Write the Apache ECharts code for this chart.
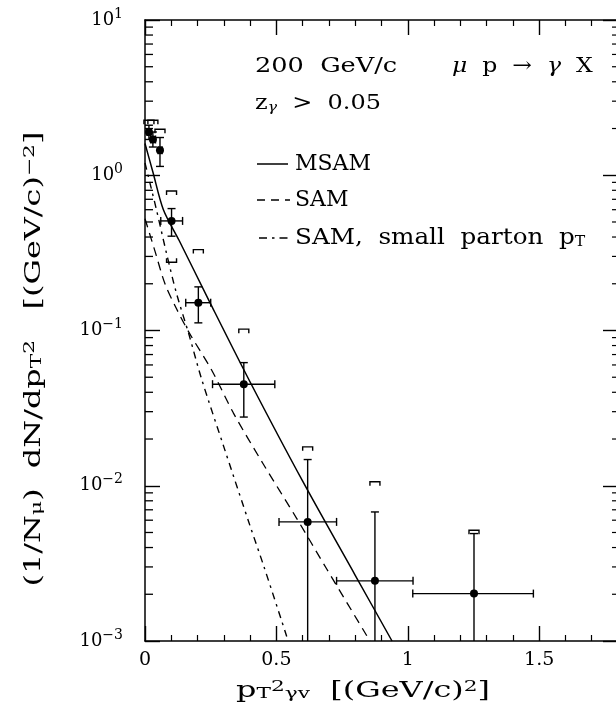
<!DOCTYPE html>
<html><head><meta charset="utf-8">
<script src="https://cdn.jsdelivr.net/npm/echarts@6/dist/echarts.min.js"></script>
<style>html,body{margin:0;padding:0;background:#fff}#c{width:616px;height:715px}</style>
</head><body><div id="c"></div>
<script>
// ---- data points (pT^2, (1/N) dN/dpT^2) ----
const ptX   = [0.015, 0.030, 0.057, 0.101, 0.203, 0.376, 0.619, 0.875, 1.252];
const ptY   = [1.90, 1.70, 1.45, 0.508, 0.151, 0.0451, 0.00585, 0.00244, 0.00202];
const ptXLo = [0.008, 0.022, 0.050, 0.060, 0.155, 0.257, 0.510, 0.729, 1.019];
const ptXHi = [0.022, 0.040, 0.065, 0.143, 0.250, 0.494, 0.729, 1.020, 1.478];
const ptYLo = [1.70, 1.52, 1.14, 0.405, 0.112, 0.0277, null, null, null];
const ptYHi = [2.10, 1.90, 1.75, 0.610, 0.191, 0.0621, 0.01475, 0.00678, 0.00492];
const sysHi = [2.26, 2.26, 1.98, 0.792, 0.332, 0.102, 0.0178, 0.0106, 0.00517];
const sysLo = [null, null, null, 0.275, null, null, null, null, null];

// ---- model curves ----
const msamX = [0, 0.03, 0.07, 0.13, 0.25, 0.40, 0.60, 0.80, 0.94];
const msamY = [1.60, 1.05, 0.60, 0.38, 0.148, 0.0466, 0.0107, 0.00265, 0.00100];
const samX  = [0, 0.04, 0.076, 0.12, 0.17, 0.254, 0.336, 0.45, 0.577, 0.691, 0.856];
const samY  = [0.525, 0.316, 0.200, 0.138, 0.0955, 0.0555, 0.0295, 0.0138, 0.00617, 0.00292, 0.00100];
const smlX  = [0, 0.044, 0.08, 0.12, 0.168, 0.2156, 0.30, 0.40, 0.453, 0.545];
const smlY  = [1.20, 0.596, 0.324, 0.173, 0.0933, 0.0485, 0.0178, 0.0055, 0.0030, 0.00100];

// ---- axes ----
const xMin = 0, xMax = 1.8;
const xTickLabels = ['0', '0.5', '1', '1.5'];
const yExponents = [-3, -2, -1, 0, 1];
const minorMantissas = [2, 3, 4, 5, 6, 7, 8, 9];

const SERIF = '"DejaVu Serif", "Liberation Serif", serif';
const chart = echarts.init(document.getElementById('c'), null, {renderer: 'canvas'});

const errData = ptX.map((x, i) => [x, ptY[i], ptXLo[i], ptXHi[i], ptYLo[i] == null ? -1 : ptYLo[i], ptYHi[i]]);
const sysData = ptX.map((x, i) => [x, sysHi[i], sysLo[i] == null ? -1 : sysLo[i]]);
const minorValues = [];
yExponents.slice(0, -1).forEach(e => minorMantissas.forEach(m => minorValues.push(m * Math.pow(10, e))));

const blk = {stroke: '#000', lineWidth: 1.4, fill: null};

function renderErr(params, api) {
  const bottom = api.coord([api.value(0), 0.001])[1];
  const x = api.value(0), y = api.value(1);
  const c = api.coord([x, y]);
  const L = api.coord([api.value(2), y])[0];
  const R = api.coord([api.value(3), y])[0];
  const T = api.coord([x, api.value(5)])[1];
  const yl = api.value(4);
  const hasLo = yl > 0;
  const B = hasLo ? api.coord([x, yl])[1] : bottom;
  const cap = 4;
  const ch = [
    {type: 'line', shape: {x1: L, y1: c[1], x2: R, y2: c[1]}, style: blk},
    {type: 'line', shape: {x1: L, y1: c[1] - cap, x2: L, y2: c[1] + cap}, style: blk},
    {type: 'line', shape: {x1: R, y1: c[1] - cap, x2: R, y2: c[1] + cap}, style: blk},
    {type: 'line', shape: {x1: c[0], y1: T, x2: c[0], y2: B}, style: blk},
    {type: 'line', shape: {x1: c[0] - cap, y1: T, x2: c[0] + cap, y2: T}, style: blk},
    {type: 'circle', shape: {cx: c[0], cy: c[1], r: 4}, style: {fill: '#000'}}
  ];
  if (hasLo) ch.push({type: 'line', shape: {x1: c[0] - cap, y1: B, x2: c[0] + cap, y2: B}, style: blk});
  return {type: 'group', children: ch};
}

function renderSys(params, api) {
  const x = api.value(0);
  const up = api.coord([x, api.value(1)]);
  const w = 5, h = 4;
  const ch = [{type: 'polyline', shape: {points: [[up[0] - w, up[1] + h], [up[0] - w, up[1]], [up[0] + w, up[1]], [up[0] + w, up[1] + h]]}, style: blk}];
  const lo = api.value(2);
  if (lo > 0) {
    const d = api.coord([x, lo]);
    ch.push({type: 'polyline', shape: {points: [[d[0] - w, d[1] - h], [d[0] - w, d[1]], [d[0] + w, d[1]], [d[0] + w, d[1] - h]]}, style: blk});
  }
  if (params.dataIndex === 0) {
    // logarithmic minor ticks on the left and right frame
    minorValues.forEach(v => {
      const l = api.coord([xMin, v]);
      const r = api.coord([xMax, v]);
      ch.push({type: 'line', shape: {x1: l[0], y1: l[1], x2: l[0] + 8, y2: l[1]}, style: {stroke: '#000', lineWidth: 1.3, fill: null}});
      ch.push({type: 'line', shape: {x1: r[0] - 6, y1: r[1], x2: r[0], y2: r[1]}, style: {stroke: '#000', lineWidth: 1.2, fill: null}});
    });
  }
  return {type: 'group', children: ch};
}

const axisLineStyle = {color: '#000', width: 1.5};
const xAxisCommon = {
  type: 'value', min: xMin, max: xMax, interval: 0.5,
  axisLine: {show: true, onZero: false, lineStyle: axisLineStyle},
  axisTick: {show: true, inside: true, length: 15, lineStyle: {color: '#000', width: 1.4}},
  minorTick: {show: true, splitNumber: 5, length: 6, lineStyle: {color: '#000', width: 1.2}},
  splitLine: {show: false}
};
const yAxisCommon = {
  type: 'log', logBase: 10, min: 0.001, max: 10,
  axisLine: {show: true, onZero: false, lineStyle: axisLineStyle},
  axisTick: {show: true, inside: true, length: 15, lineStyle: {color: '#000', width: 1.4}},
  minorTick: {show: false},
  splitLine: {show: false}
};

const subSup = {
  sub: {fontSize: 15, fontFamily: SERIF, verticalAlign: 'bottom', lineHeight: 14},
  sup: {fontSize: 15, fontFamily: SERIF, verticalAlign: 'top', lineHeight: 14}
};

const option = {
  animation: false,
  backgroundColor: '#fff',
  grid: {left: 145, top: 20, width: 473, height: 621, containLabel: false, outerBoundsMode: 'none'},
  xAxis: [
    Object.assign({}, xAxisCommon, {position: 'bottom',
      axisLabel: {show: true, margin: 10, color: '#000', fontFamily: SERIF, fontSize: 19, showMaxLabel: false,
        formatter: v => { const i = Math.round(v / 0.5); return (Math.abs(v - i * 0.5) < 1e-9 && i < xTickLabels.length) ? xTickLabels[i] : ''; }}}),
    Object.assign({}, xAxisCommon, {position: 'top', axisLabel: {show: false}})
  ],
  yAxis: [
    Object.assign({}, yAxisCommon, {position: 'left',
      axisLabel: {show: true, margin: 22, color: '#000', fontFamily: SERIF,
        formatter: v => { const e = Math.round(Math.log10(v)); return '{b|10}{s|' + (e < 0 ? '\u2212' + (-e) : e) + '}'; },
        rich: {b: {fontSize: 18, fontFamily: SERIF, color: '#000', lineHeight: 26},
               s: {fontSize: 14, fontFamily: SERIF, color: '#000', lineHeight: 16, verticalAlign: 'top'}}}}),
    Object.assign({}, yAxisCommon, {position: 'right', axisLabel: {show: false}})
  ],
  series: [
    {type: 'line', name: 'MSAM', data: msamX.map((x, i) => [x, msamY[i]]), showSymbol: false, smooth: 0.3,
     lineStyle: {color: '#000', width: 1.5, type: 'solid'}, clip: true},
    {type: 'line', name: 'SAM', data: samX.map((x, i) => [x, samY[i]]), showSymbol: false, smooth: 0.3,
     lineStyle: {color: '#000', width: 1.3, type: [9, 6]}, clip: true},
    {type: 'line', name: 'SAM, small parton pT', data: smlX.map((x, i) => [x, smlY[i]]), showSymbol: false, smooth: 0.3,
     lineStyle: {color: '#000', width: 1.4, type: [7, 5, 2.5, 5]}, clip: true},
    {type: 'custom', name: 'data', renderItem: renderErr, data: errData, encode: {x: 0, y: 1}, clip: true, z: 5},
    {type: 'custom', name: 'sys', renderItem: renderSys, data: sysData, encode: {x: 0, y: 1}, clip: false, z: 5}
  ],
  graphic: [
    // annotations
    {type: 'text', x: 255, y: 67, scaleX: 1.28, style: {text: '200  GeV/c', font: '20px ' + SERIF, fill: '#000', verticalAlign: 'middle'}},
    {type: 'text', x: 452, y: 67, scaleX: 1.12, style: {text: '{i|\u03bc}  p  \u2192  {i|\u03b3}  X', fill: '#000', fontSize: 21, fontFamily: SERIF, verticalAlign: 'middle',
      rich: {i: {fontStyle: 'italic', fontSize: 21, fontFamily: SERIF}}}},
    {type: 'text', x: 255, y: 104, scaleX: 1.2, style: {text: 'z{sub|\u03b3}  >  0.05', fill: '#000', fontSize: 20, fontFamily: SERIF, verticalAlign: 'middle',
      rich: {sub: {fontSize: 13, fontStyle: 'italic', verticalAlign: 'bottom', lineHeight: 12, fontFamily: SERIF}}}},
    // legend
    {type: 'line', shape: {x1: 257, y1: 164, x2: 288, y2: 164}, style: {stroke: '#000', lineWidth: 1.5}},
    {type: 'text', x: 295, y: 164, style: {text: 'MSAM', font: '22px ' + SERIF, fill: '#000', verticalAlign: 'middle'}},
    {type: 'line', shape: {x1: 257, y1: 200, x2: 290, y2: 200}, style: {stroke: '#000', lineWidth: 1.4, lineDash: [8, 6]}},
    {type: 'text', x: 295, y: 200, style: {text: 'SAM', font: '22px ' + SERIF, fill: '#000', verticalAlign: 'middle'}},
    {type: 'line', shape: {x1: 259, y1: 238, x2: 290, y2: 238}, style: {stroke: '#000', lineWidth: 1.4, lineDash: [8, 5, 2.5, 5]}},
    {type: 'text', x: 295, y: 238, scaleX: 1.12, style: {text: 'SAM,  small  parton  p{sub|T}', fill: '#000', fontSize: 22, fontFamily: SERIF, verticalAlign: 'middle',
      rich: {sub: {fontSize: 14, fontFamily: SERIF, verticalAlign: 'bottom', lineHeight: 14}}}},
    // axis titles
    {type: 'text', x: 34, y: 359, rotation: Math.PI / 2, scaleX: 1.45,
     style: {text: '(1/N{sub|\u03bc})  dN/dp{sub|T}{sup|2}   [(GeV/c){sup|\u22122}]', fill: '#000', fontSize: 22, fontFamily: SERIF,
       align: 'center', verticalAlign: 'middle', rich: subSup}},
    {type: 'text', x: 363, y: 691, scaleX: 1.45,
     style: {text: 'p{sub|T}{sup|2}{sub|\u03b3v}  [(GeV/c){sup|2}]', fill: '#000', fontSize: 22, fontFamily: SERIF,
       align: 'center', verticalAlign: 'middle', rich: subSup}}
  ]
};
chart.setOption(option);
</script></body></html>
